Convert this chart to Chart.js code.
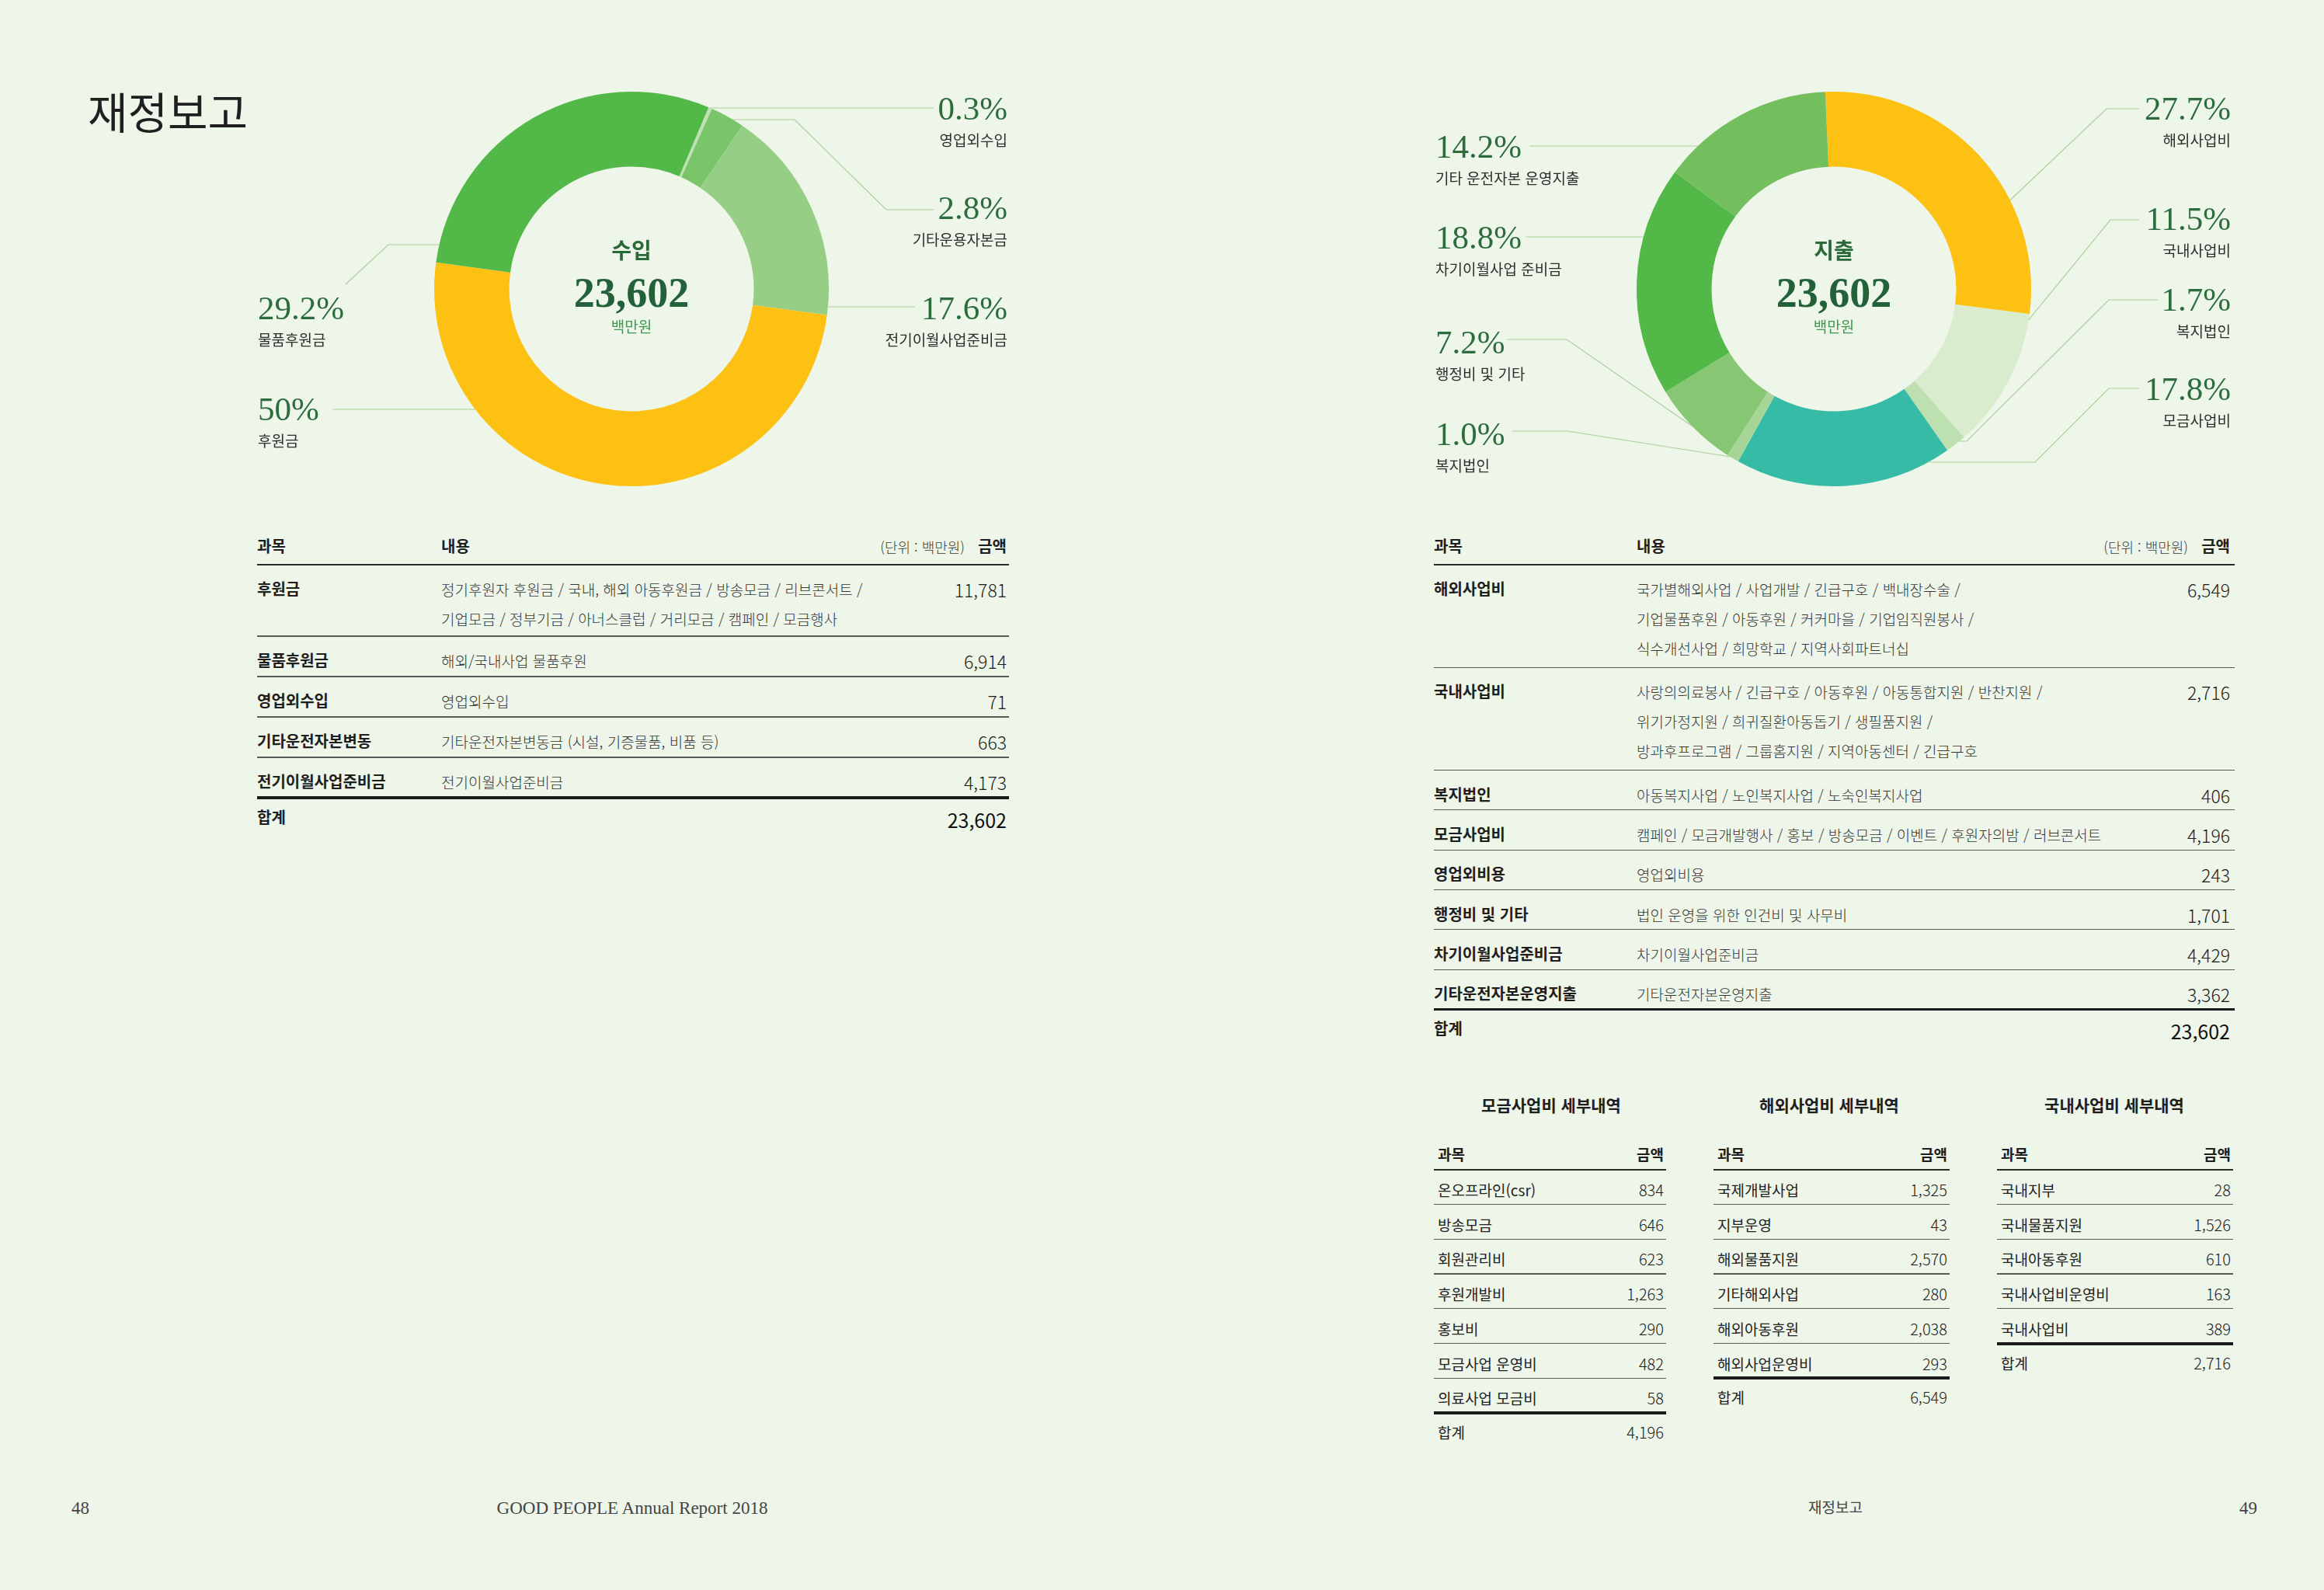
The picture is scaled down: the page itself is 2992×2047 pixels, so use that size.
<!DOCTYPE html>
<html lang="ko">
<head>
<meta charset="utf-8">
<title>재정보고</title>
<script src="https://cdn.jsdelivr.net/npm/chart.js@4.4.1/dist/chart.umd.min.js"></script>
<style>
html,body{margin:0;padding:0;background:#eef5e9;}
#page{position:relative;width:2992px;height:2047px;overflow:hidden;background:#eef5e9;font-family:'Noto Sans CJK KR','Noto Sans',sans-serif;color:#222;}
.cv{position:absolute;}
.t{position:absolute;white-space:nowrap;line-height:1;}
.title{font-size:56px;font-weight:400;color:#1f1f1f;}
.pct{font-family:'Liberation Serif','DejaVu Serif',serif;font-size:43px;color:#2d6d3d;}
.nm{font-size:19px;color:#2e2e2e;}
.ctitle{font-size:28px;font-weight:700;color:#2a6a39;}
.cval{font-family:'Liberation Serif','DejaVu Serif',serif;font-weight:700;font-size:54px;color:#23613a;}
.cunit{font-size:19px;color:#3f9a4e;}
.th{font-size:20px;font-weight:700;color:#1e1e1e;}
.unit{font-size:18px;font-weight:300;color:#3a3a3a;}
.rl{font-size:20px;font-weight:700;color:#1e1e1e;}
.rc{font-size:19px;font-weight:300;color:#363636;}
.ra{font-size:23px;font-weight:300;color:#1a1a1a;}
.rt{font-size:25px;font-weight:400;color:#111;}
.st{font-size:21px;font-weight:700;color:#1e1e1e;}
.sth{font-size:19px;font-weight:700;color:#1e1e1e;}
.sr{font-size:19px;font-weight:400;color:#222;}
.sa{font-size:20px;font-weight:300;color:#1a1a1a;}
.foot{font-family:'Liberation Serif','DejaVu Serif',serif;font-size:23px;color:#444;}
.footk{font-size:19px;color:#444;}
.rule{position:absolute;}
</style>
</head>
<body>
<div id="page">
  <canvas id="incomeChart" class="cv" width="1020" height="580" style="left:300px;top:80px;width:1020px;height:580px;"></canvas>
  <canvas id="expenseChart" class="cv" width="1080" height="580" style="left:1830px;top:80px;width:1080px;height:580px;"></canvas>
</div>
<script>
// ---------------- DATA ----------------
const incomeCategories = ['영업외수입', '기타운용자본금', '전기이월사업준비금', '후원금', '물품후원금'];
const incomePercent = [0.3, 2.8, 17.6, 50, 29.2];
const incomePercentLabels = ['0.3%', '2.8%', '17.6%', '50%', '29.2%'];
const incomeColors = ['#bfe0b1', '#7ac46a', '#96ce86', '#fdc114', '#52b848'];

const expenseCategories = ['해외사업비', '국내사업비', '복지법인', '모금사업비', '복지법인', '행정비 및 기타', '차기이월사업 준비금', '기타 운전자본 운영지출'];
const expensePercent = [27.7, 11.5, 1.7, 17.8, 1.0, 7.2, 18.8, 14.2];
const expensePercentLabels = ['27.7%', '11.5%', '1.7%', '17.8%', '1.0%', '7.2%', '18.8%', '14.2%'];
const expenseColors = ['#fdc114', '#d9ecce', '#bde0b0', '#36bba6', '#a7d597', '#87c774', '#52b848', '#73bf5e'];

const totalAmount = '23,602';
const unitLabel = '백만원';

const incomeSubjects = ['후원금', '물품후원금', '영업외수입', '기타운전자본변동', '전기이월사업준비금'];
const incomeContents = [
  ['정기후원자 후원금 / 국내, 해외 아동후원금 / 방송모금 / 리브콘서트 /', '기업모금 / 정부기금 / 아너스클럽 / 거리모금 / 캠페인 / 모금행사'],
  ['해외/국내사업 물품후원'],
  ['영업외수입'],
  ['기타운전자본변동금 (시설, 기증물품, 비품 등)'],
  ['전기이월사업준비금']
];
const incomeAmounts = ['11,781', '6,914', '71', '663', '4,173'];

const expenseSubjects = ['해외사업비', '국내사업비', '복지법인', '모금사업비', '영업외비용', '행정비 및 기타', '차기이월사업준비금', '기타운전자본운영지출'];
const expenseContents = [
  ['국가별해외사업 / 사업개발 / 긴급구호 / 백내장수술 /', '기업물품후원 / 아동후원 / 커커마을 / 기업임직원봉사 /', '식수개선사업 / 희망학교 / 지역사회파트너십'],
  ['사랑의의료봉사 / 긴급구호 / 아동후원 / 아동통합지원 / 반찬지원 /', '위기가정지원 / 희귀질환아동돕기 / 생필품지원 /', '방과후프로그램 / 그룹홈지원 / 지역아동센터 / 긴급구호'],
  ['아동복지사업 / 노인복지사업 / 노숙인복지사업'],
  ['캠페인 / 모금개발행사 / 홍보 / 방송모금 / 이벤트 / 후원자의밤 / 러브콘서트'],
  ['영업외비용'],
  ['법인 운영을 위한 인건비 및 사무비'],
  ['차기이월사업준비금'],
  ['기타운전자본운영지출']
];
const expenseAmounts = ['6,549', '2,716', '406', '4,196', '243', '1,701', '4,429', '3,362'];

const fundraisingItems = ['온오프라인(csr)', '방송모금', '회원관리비', '후원개발비', '홍보비', '모금사업 운영비', '의료사업 모금비'];
const fundraisingAmounts = [834, 646, 623, 1263, 290, 482, 58];
const overseasItems = ['국제개발사업', '지부운영', '해외물품지원', '기타해외사업', '해외아동후원', '해외사업운영비'];
const overseasAmounts = [1325, 43, 2570, 280, 2038, 293];
const domesticItems = ['국내지부', '국내물품지원', '국내아동후원', '국내사업비운영비', '국내사업비'];
const domesticAmounts = [28, 1526, 610, 163, 389];

// ---------------- LAYOUT ----------------
const incomeLabelPos = [
  {x: 1297, y: 139, align: 'right'},
  {x: 1297, y: 267, align: 'right'},
  {x: 1297, y: 396, align: 'right'},
  {x: 332, y: 526, align: 'left'},
  {x: 332, y: 396, align: 'left'}
];
const incomeLeaders = [
  {path: [[1202, 139]], snap: 'h'},
  {path: [[1202, 270], [1141, 270], [1023, 154]], snap: 'h'},
  {path: [[1178, 395]], snap: 'h'},
  {path: [[428, 527]], snap: 'h'},
  {path: [[445, 366], [500, 315]], snap: 'h'}
];
const expenseLabelPos = [
  {x: 2872, y: 139, align: 'right'},
  {x: 2872, y: 281, align: 'right'},
  {x: 2872, y: 385, align: 'right'},
  {x: 2872, y: 500, align: 'right'},
  {x: 1848, y: 558, align: 'left'},
  {x: 1848, y: 440, align: 'left'},
  {x: 1848, y: 305, align: 'left'},
  {x: 1848, y: 188, align: 'left'}
];
const expenseLeaders = [
  {path: [[2754, 140], [2712, 140]], t: 0.659},
  {path: [[2754, 283], [2717, 283]], t: 0.04},
  {path: [[2778, 386], [2715, 386], [2532, 568]], snap: 'h'},
  {path: [[2754, 500], [2715, 500], [2620, 595]], snap: 'h'},
  {path: [[1947, 555], [2018, 555]], t: 0.75},
  {path: [[1940, 437], [2017, 437]], t: 0.515},
  {path: [[1964, 305]], snap: 'h'},
  {path: [[1969, 188]], snap: 'h'}
];

const page = document.getElementById('page');
function put(text, x, y, cls, align) {
  const d = document.createElement('div');
  d.className = 't ' + cls;
  d.textContent = text;
  d.style.left = x + 'px';
  d.style.top = y + 'px';
  const tx = align === 'right' ? '-100%' : (align === 'center' ? '-50%' : '0');
  d.style.transform = 'translate(' + tx + ',-50%)';
  page.appendChild(d);
  return d;
}
function hline(x1, x2, y, w, color) {
  const d = document.createElement('div');
  d.className = 'rule';
  d.style.left = x1 + 'px';
  d.style.top = (y - w / 2) + 'px';
  d.style.width = (x2 - x1) + 'px';
  d.style.height = w + 'px';
  d.style.background = color;
  page.appendChild(d);
}
const fmt = v => v.toLocaleString('en-US');

// ---------------- LEADER PLUGIN ----------------
const leaderPlugin = {
  id: 'leaders',
  afterDatasetsDraw(chart, args, opts) {
    const ctx = chart.ctx;
    const arcs = chart.getDatasetMeta(0).data;
    ctx.save();
    ctx.strokeStyle = opts.color;
    ctx.lineWidth = opts.width;
    opts.items.forEach((it, i) => {
      const arc = arcs[i];
      const p = arc.getProps(['x', 'y', 'outerRadius', 'startAngle', 'endAngle'], true);
      const pts = it.path.map(q => [q[0] - opts.ox, q[1] - opts.oy]);
      const last = pts[pts.length - 1];
      let end;
      if (it.snap === 'h') {
        const dy = last[1] - p.y;
        const dx = Math.sqrt(Math.max(p.outerRadius * p.outerRadius - dy * dy, 0));
        end = [p.x + (last[0] > p.x ? dx : -dx), last[1]];
      } else {
        const a = p.startAngle + (p.endAngle - p.startAngle) * it.t;
        end = [p.x + Math.cos(a) * p.outerRadius, p.y + Math.sin(a) * p.outerRadius];
      }
      ctx.beginPath();
      ctx.moveTo(pts[0][0], pts[0][1]);
      for (let k = 1; k < pts.length; k++) ctx.lineTo(pts[k][0], pts[k][1]);
      ctx.lineTo(end[0], end[1]);
      ctx.stroke();
    });
    ctx.restore();
  }
};

function donut(id, cats, values, colors, rotation, padding, leaders, ox, oy) {
  return new Chart(document.getElementById(id), {
    type: 'doughnut',
    data: {
      labels: cats,
      datasets: [{data: values, backgroundColor: colors, borderWidth: 0, hoverOffset: 0, offset: 0}]
    },
    options: {
      responsive: false,
      maintainAspectRatio: false,
      animation: false,
      events: [],
      cutout: '62%',
      rotation: rotation,
      layout: {padding: padding},
      plugins: {
        legend: {display: false},
        tooltip: {enabled: false},
        leaders: {items: leaders, ox: ox, oy: oy, color: '#a9d09a', width: 1.2}
      }
    },
    plugins: [leaderPlugin]
  });
}

donut('incomeChart', incomeCategories, incomePercent, incomeColors, 23,
  {left: 259, right: 253, top: 38, bottom: 34}, incomeLeaders, 300, 80);
donut('expenseChart', expenseCategories, expensePercent, expenseColors, -2.5,
  {left: 277, right: 295, top: 38, bottom: 34}, expenseLeaders, 1830, 80);

// ---------------- TEXT ----------------
put('재정보고', 113, 142, 'title', 'left');

incomeCategories.forEach((c, i) => {
  const p = incomeLabelPos[i];
  put(incomePercentLabels[i], p.x, p.y, 'pct', p.align);
  put(c, p.x, p.y + 40, 'nm', p.align);
});
expenseCategories.forEach((c, i) => {
  const p = expenseLabelPos[i];
  put(expensePercentLabels[i], p.x, p.y, 'pct', p.align);
  put(c, p.x, p.y + 40, 'nm', p.align);
});

put('수입', 813, 321, 'ctitle', 'center');
put(totalAmount, 813, 377, 'cval', 'center');
put(unitLabel, 813, 419, 'cunit', 'center');
put('지출', 2361, 321, 'ctitle', 'center');
put(totalAmount, 2361, 377, 'cval', 'center');
put(unitLabel, 2361, 419, 'cunit', 'center');

// ---------------- MAIN TABLES ----------------
function mainTable(cfg) {
  const {x0, xc, xr, xe, subjects, contents, amounts, rowH, extra} = cfg;
  put('과목', x0, 703, 'th');
  put('내용', xc, 703, 'th');
  put('금액', xr, 703, 'th', 'right');
  put('(단위 : 백만원)', xr - 54, 704, 'unit', 'right');
  hline(x0, xe, 727, 2, '#2b2b2b');
  let y = 727;
  subjects.forEach((s, i) => {
    const lines = contents[i];
    put(s, x0, y + 31, 'rl');
    lines.forEach((ln, j) => put(ln, xc, y + 31 + j * 38, 'rc'));
    put(amounts[i], xr, y + 32, 'ra', 'right');
    y += rowH + (lines.length - 1) * extra;
    const lastRow = i === subjects.length - 1;
    hline(x0, xe, y, lastRow ? 3.5 : 1.2, lastRow ? '#1a1a1a' : '#5a5a5a');
  });
  put('합계', x0, y + 25, 'rl');
  put(totalAmount, xr, y + 28, 'rt', 'right');
}
mainTable({x0: 331, xc: 568, xr: 1296, xe: 1299, subjects: incomeSubjects, contents: incomeContents, amounts: incomeAmounts, rowH: 52, extra: 40});
mainTable({x0: 1846, xc: 2107, xr: 2871, xe: 2877, subjects: expenseSubjects, contents: expenseContents, amounts: expenseAmounts, rowH: 51.3, extra: 40.5});

// ---------------- SUB TABLES ----------------
function subTable(title, cx, x0, x1, items, amounts) {
  put(title, cx, 1422, 'st', 'center');
  put('과목', x0 + 5, 1485, 'sth');
  put('금액', x1 - 3, 1485, 'sth', 'right');
  hline(x0, x1, 1506, 2.5, '#2b2b2b');
  let y = 1506;
  let total = 0;
  items.forEach((it, i) => {
    put(it, x0 + 5, y + 25, 'sr');
    put(fmt(amounts[i]), x1 - 3, y + 26, 'sa', 'right');
    total += amounts[i];
    y += 44.7;
    const lastRow = i === items.length - 1;
    hline(x0, x1, y, lastRow ? 4 : 1.3, lastRow ? '#1a1a1a' : '#5a5a5a');
  });
  put('합계', x0 + 5, y + 24, 'sr');
  put(fmt(total), x1 - 3, y + 25, 'sa', 'right');
}
subTable('모금사업비 세부내역', 1997, 1846, 2145, fundraisingItems, fundraisingAmounts);
subTable('해외사업비 세부내역', 2355, 2206, 2510, overseasItems, overseasAmounts);
subTable('국내사업비 세부내역', 2722, 2571, 2875, domesticItems, domesticAmounts);

// ---------------- FOOTER ----------------
put('48', 92, 1941, 'foot');
put('GOOD PEOPLE Annual Report 2018', 814, 1941, 'foot', 'center');
put('재정보고', 2363, 1939, 'footk', 'center');
put('49', 2906, 1941, 'foot', 'right');
</script>
</body>
</html>
